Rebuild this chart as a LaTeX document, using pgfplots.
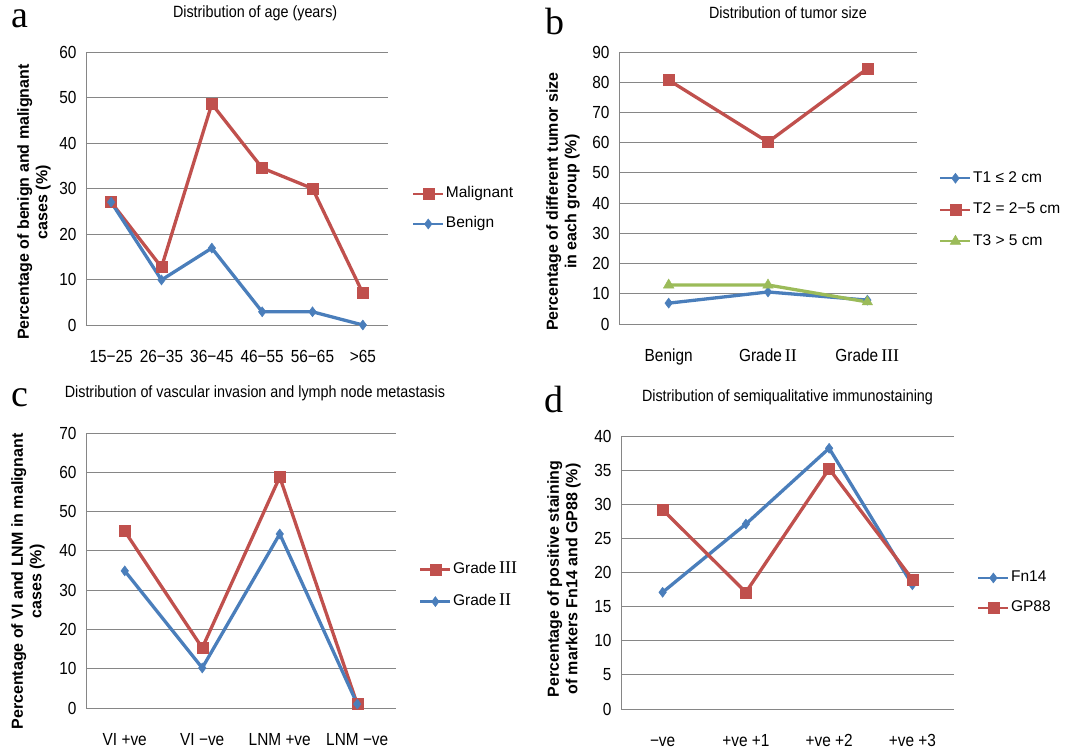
\documentclass[border=0pt]{standalone}
\usepackage{pgfplots}
\pgfplotsset{compat=1.18}
\usepackage{fontspec}
\setmainfont{Liberation Sans}
\newfontfamily\narrow{Liberation Sans}[FakeStretch=0.88]
\newfontfamily\serifnum{Liberation Serif}
\definecolor{myred}{RGB}{192,80,77}
\definecolor{myblue}{RGB}{74,126,187}
\definecolor{mygreen}{RGB}{155,187,89}
\definecolor{gridgray}{RGB}{134,134,134}
\newcommand{\rom}[1]{\hspace{3pt}{\serifnum\fontsize{18}{18}\selectfont #1}}
\pgfplotsset{
  panel/.style={
    scale only axis,
    anchor=south west,
    axis lines*=left,
    axis line style={draw=gridgray,line width=0.8pt,-},
    ymajorgrids,
    grid style={draw=gridgray,line width=0.8pt},
    major tick length=0pt,
    ymin=0,
    tick label style={font=\narrow\fontsize{17.5}{20}\selectfont},
    /pgf/number format/assume math mode=true,
    xticklabel style={yshift=-21pt, text height=12.5pt, text depth=4pt},
    yticklabel style={xshift=-6pt},
    title style={font=\narrow\fontsize{16.3}{19}\selectfont, anchor=center},
    ylabel style={font=\bfseries\fontsize{16}{18.5}\selectfont, align=center, anchor=center},
    legend style={draw=none, fill=none, inner sep=0pt, row sep=13pt, anchor=west,
      font=\fontsize{15.5}{18}\selectfont,
      nodes={inner sep=1.5pt, text height=11pt, text depth=3pt}},
    legend cell align=left,
    legend image code/.code={\draw[mark repeat=2,mark phase=2,line width=2.4pt]
      plot coordinates {(0pt,0pt) (15pt,0pt) (30pt,0pt)};},
  },
  redline/.style={color=myred, line width=3.3pt, mark=square*, mark size=5.5pt, mark options={solid,line width=0.5pt}},
  blueline/.style={color=myblue, line width=3.3pt, mark=diamond*, mark size=5pt, mark options={solid,line width=0.5pt}},
  greenline/.style={color=mygreen, line width=3.3pt, mark=triangle*, mark size=6pt, mark options={solid,line width=0.5pt}},
}
\begin{document}
\begin{tikzpicture}
\useasboundingbox (0pt,0pt) rectangle (1067pt,750pt);
% panel a
\begin{axis}[panel, at={(86pt,425pt)}, width=302pt, height=273pt,
  xmin=-0.5, xmax=5.5, ymax=60, ytick distance=10,
  xtick={0,...,5}, xticklabels={15−25,26−35,36−45,46−55,56−65,>65},
  title={Distribution of age (years)}, title style={at={(axis description cs:0.56,1.121)}},
  ylabel={Percentage of benign and malignant\\cases (\%)},
  ylabel style={at={(axis description cs:-0.172,0.45)}},
  legend style={at={(axis description cs:1.079,0.425)}}]
\addplot[redline] coordinates {(0,27) (1,12.7) (2,48.6) (3,34.5) (4,30) (5,7)};
\addlegendentry{Malignant}
\addplot[blueline] coordinates {(0,27) (1,9.9) (2,16.9) (3,2.9) (4,2.9) (5,0)};
\addlegendentry{Benign}
\end{axis}
% panel b
\begin{axis}[panel, at={(619pt,426pt)}, width=298pt, height=272pt,
  xmin=-0.5, xmax=2.5, ymax=90, ytick distance=10,
  xtick={0,1,2}, xticklabels={Benign,Grade\rom{II},Grade\rom{III}},
  title={Distribution of tumor size}, title style={at={(axis description cs:0.567,1.121)}},
  ylabel={Percentage of different tumor size\\in each group (\%)},
  ylabel style={at={(axis description cs:-0.188,0.45)}},
  legend style={at={(axis description cs:1.074,0.42)}, row sep=14.5pt}]
\addplot[blueline] coordinates {(0,6.9) (1,10.6) (2,7.9)};
\addlegendentry{T1 ≤ 2 cm}
\addplot[redline] coordinates {(0,80.7) (1,60.2) (2,84.5)};
\addlegendentry{T2 = 2−5 cm}
\addplot[greenline] coordinates {(0,12.9) (1,12.9) (2,7.3)};
\addlegendentry{T3 > 5 cm}
\end{axis}
% panel c
\begin{axis}[panel, at={(86pt,42pt)}, width=310pt, height=275pt,
  xmin=-0.5, xmax=3.5, ymax=70, ytick distance=10,
  xtick={0,...,3}, xticklabels={VI +ve,VI −ve,LNM +ve,LNM −ve},
  title={Distribution of vascular invasion and lymph node metastasis}, title style={at={(axis description cs:0.545,1.124)}},
  ylabel={Percentage of VI and LNM in malignant\\cases (\%)},
  ylabel style={at={(axis description cs:-0.187,0.46)}},
  legend style={at={(axis description cs:1.074,0.445)}, row sep=15pt}]
\addplot[redline] coordinates {(0,45) (1,15.3) (2,58.8) (3,1)};
\addlegendentry{Grade\rom{III}}
\addplot[blueline] coordinates {(0,34.9) (1,10.2) (2,44.3) (3,1)};
\addlegendentry{Grade\rom{II}}
\end{axis}
% panel d
\begin{axis}[panel, at={(621pt,41pt)}, width=333pt, height=273pt,
  xmin=-0.5, xmax=3.5, ymax=40, ytick distance=5,
  xtick={0,...,3}, xticklabels={−ve,+ve +1,+ve +2,+ve +3},
  title={Distribution of semiqualitative immunostaining}, title style={at={(axis description cs:0.50,1.121)}},
  ylabel={Percentage of positive staining\\of markers Fn14 and GP88 (\%)},
  ylabel style={at={(axis description cs:-0.171,0.476)}},
  legend style={at={(axis description cs:1.069,0.425)}}]
\addplot[blueline] coordinates {(0,17.1) (1,27.1) (2,38.2) (3,18.2)};
\addlegendentry{Fn14}
\addplot[redline] coordinates {(0,29.2) (1,17.1) (2,35.2) (3,19)};
\addlegendentry{GP88}
\end{axis}
% panel letters
\node[anchor=base, font={\serifnum\fontsize{38}{38}\selectfont}] at (20pt,722pt) {a};
\node[anchor=base, font={\serifnum\fontsize{38}{38}\selectfont}] at (555pt,715pt) {b};
\node[anchor=base, font={\serifnum\fontsize{38}{38}\selectfont}] at (20pt,343pt) {c};
\node[anchor=base, font={\serifnum\fontsize{38}{38}\selectfont}] at (554pt,337pt) {d};
\end{tikzpicture}
\end{document}
